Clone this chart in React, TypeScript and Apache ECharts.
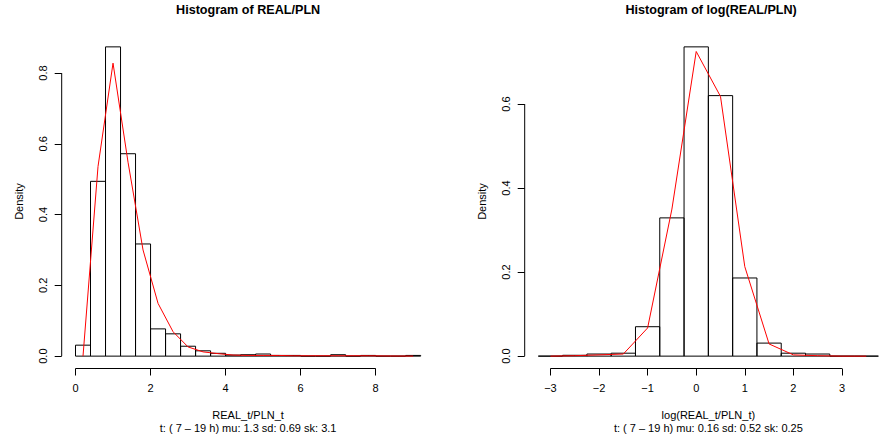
import React, { useEffect, useRef } from "react";
import * as echarts from "echarts";

// ---- REAL/PLN : histogram (bin width 0.4) + density curve at bin mids ----
const rawBreaks = [0, 0.4, 0.8, 1.2, 1.6, 2.0, 2.4, 2.8, 3.2, 3.6, 4.0, 4.4, 4.8, 5.2, 5.6, 6.0, 6.4, 6.8, 7.2, 7.6, 8.0, 8.4, 8.8, 9.2];
const rawDensity = [0.031, 0.494, 0.874, 0.572, 0.317, 0.077, 0.063, 0.028, 0.015, 0.008, 0.003, 0.004, 0.006, 0.002, 0.002, 0, 0, 0.004, 0, 0.002, 0, 0, 0.002];
const rawMids = [0.2, 0.6, 1.0, 1.4, 1.8, 2.2, 2.6, 3.0, 3.4, 3.8, 4.2, 4.6, 5.0, 5.4, 5.8, 6.2, 6.6, 7.0, 7.4, 7.8, 8.2, 8.6, 9.0];
const rawCurve = [0, 0.536, 0.828, 0.548, 0.3, 0.149, 0.069, 0.026, 0.012, 0.007, 0.003, 0.002, 0.002, 0.002, 0.001, 0.001, 0.001, 0.001, 0.001, 0.001, 0.0005, 0.0003, 0.0002];
const rawXTicks = [0, 2, 4, 6, 8];
const rawYTicks = [0, 0.2, 0.4, 0.6, 0.8];

// ---- log(REAL/PLN) : histogram (bin width 0.5) + density curve ----
const logBreaks = [-3.25, -2.75, -2.25, -1.75, -1.25, -0.75, -0.25, 0.25, 0.75, 1.25, 1.75, 2.25, 2.75, 3.25, 3.75];
const logDensity = [0, 0.002, 0.005, 0.007, 0.07, 0.329, 0.736, 0.62, 0.186, 0.031, 0.007, 0.005, 0, 0];
const logMids = [-3, -2.5, -2, -1.5, -1, -0.5, 0, 0.5, 1, 1.5, 2, 2.5, 3, 3.5];
const logCurve = [0, 0.001, 0.003, 0.005, 0.067, 0.35, 0.725, 0.618, 0.213, 0.029, 0.003, 0.001, 0, 0];
const logXTicks = [-3, -2, -1, 0, 1, 2, 3];
const logYTicks = [0, 0.2, 0.4, 0.6];

const FONT = "'Liberation Sans', Arial, Helvetica, sans-serif";
const TEXT_SIZE = 11;
const TITLE_SIZE = 12.6;

type Panel = {
  title: string;
  xName: string;
  stats: string;
  breaks: number[];
  density: number[];
  mids: number[];
  curve: number[];
  xTicks: number[];
  yTicks: number[];
  left: number;
};

const panels: Panel[] = [
  {
    title: "Histogram of REAL/PLN",
    xName: "REAL_t/PLN_t",
    stats: "t: ( 7 \u2013 19 h) mu: 1.3 sd: 0.69 sk: 3.1",
    breaks: rawBreaks,
    density: rawDensity,
    mids: rawMids,
    curve: rawCurve,
    xTicks: rawXTicks,
    yTicks: rawYTicks,
    left: 61.7,
  },
  {
    title: "Histogram of log(REAL/PLN)",
    xName: "log(REAL_t/PLN_t)",
    stats: "t: ( 7 \u2013 19 h) mu: 0.16 sd: 0.52 sk: 0.25",
    breaks: logBreaks,
    density: logDensity,
    mids: logMids,
    curve: logCurve,
    xTicks: logXTicks,
    yTicks: logYTicks,
    left: 524.7,
  },
];

const PLOT_TOP = 34.5;
const PLOT_H = 334;
const PLOT_W = 372.8;

const fmtNum = (v: number, digits: number) => {
  const s = v.toFixed(digits);
  return s.startsWith("-") ? "\u2212" + s.slice(1) : s;
};

function buildOption() {
  const grid: any[] = [];
  const xAxis: any[] = [];
  const yAxis: any[] = [];
  const series: any[] = [];
  const graphic: any[] = [];

  panels.forEach((p, i) => {
    // R-style limits: data range padded by 4% on each side
    const bLo = p.breaks[0];
    const bHi = p.breaks[p.breaks.length - 1];
    const xPad = (bHi - bLo) * 0.04;
    const yMaxData = Math.max(...p.density);
    const yPad = yMaxData * 0.04;
    const xMin = bLo - xPad;
    const xMax = bHi + xPad;
    const yMin = -yPad;
    const yMax = yMaxData + yPad;

    grid.push({ left: p.left, top: PLOT_TOP, width: PLOT_W, height: PLOT_H, containLabel: false });

    xAxis.push({
      type: "value",
      gridIndex: i,
      min: xMin,
      max: xMax,
      position: "bottom",
      axisLine: { show: false, onZero: false },
      splitLine: { show: false },
      axisTick: {
        show: true,
        customValues: p.xTicks,
        length: 7,
        lineStyle: { color: "#000", width: 1 },
      },
      axisLabel: {
        customValues: p.xTicks,
        margin: 14,
        color: "#000",
        fontSize: TEXT_SIZE,
        fontFamily: FONT,
        formatter: (v: number) => fmtNum(v, 0),
      },
      name: p.xName + "\n" + p.stats,
      nameLocation: "middle",
      nameGap: 40,
      nameTextStyle: {
        color: "#000",
        fontSize: TEXT_SIZE,
        fontFamily: FONT,
        lineHeight: 13,
        verticalAlign: "top",
      },
    });

    yAxis.push({
      type: "value",
      gridIndex: i,
      min: yMin,
      max: yMax,
      position: "left",
      axisLine: { show: false, onZero: false },
      splitLine: { show: false },
      axisTick: {
        show: true,
        customValues: p.yTicks,
        length: 7,
        lineStyle: { color: "#000", width: 1 },
      },
      axisLabel: {
        customValues: p.yTicks,
        rotate: 90,
        margin: 13,
        color: "#000",
        fontSize: TEXT_SIZE,
        fontFamily: FONT,
        formatter: (v: number) => fmtNum(v, 1),
      },
      name: "Density",
      nameLocation: "middle",
      nameRotate: 90,
      nameGap: 37,
      nameTextStyle: { color: "#000", fontSize: TEXT_SIZE, fontFamily: FONT },
    });

    // histogram bins
    const bins = p.density.map((d, k) => [p.breaks[k], p.breaks[k + 1], d]);
    series.push({
      type: "custom",
      xAxisIndex: i,
      yAxisIndex: i,
      silent: true,
      encode: { x: [0, 1], y: 2 },
      data: bins,
      renderItem: (_params: any, api: any) => {
        const x0 = api.value(0);
        const x1 = api.value(1);
        const d = api.value(2);
        const a = api.coord([x0, d]);
        const b = api.coord([x1, 0]);
        return {
          type: "rect",
          shape: { x: a[0], y: a[1], width: b[0] - a[0], height: b[1] - a[1] },
          style: { fill: "none", stroke: "#000", lineWidth: 1 },
        };
      },
      z: 2,
    });

    // density curve
    series.push({
      type: "line",
      xAxisIndex: i,
      yAxisIndex: i,
      data: p.mids.map((m, k) => [m, p.curve[k]]),
      showSymbol: false,
      symbol: "none",
      silent: true,
      lineStyle: { color: "#ff0000", width: 1 },
      z: 3,
    });

    // axis lines spanning first to last tick only
    const xT = p.xTicks;
    const yT = p.yTicks;
    series.push({
      type: "line",
      xAxisIndex: i,
      yAxisIndex: i,
      data: [
        [xT[0], yMin],
        [xT[xT.length - 1], yMin],
      ],
      symbol: "none",
      clip: false,
      silent: true,
      lineStyle: { color: "#000", width: 1 },
      z: 4,
    });
    series.push({
      type: "line",
      xAxisIndex: i,
      yAxisIndex: i,
      data: [
        [xMin, yT[0]],
        [xMin, yT[yT.length - 1]],
      ],
      symbol: "none",
      clip: false,
      silent: true,
      lineStyle: { color: "#000", width: 1 },
      z: 4,
    });

    graphic.push({
      type: "text",
      x: p.left + PLOT_W / 2,
      y: 3,
      style: {
        text: p.title,
        align: "center",
        verticalAlign: "top",
        fill: "#000",
        font: `bold ${TITLE_SIZE}px ${FONT}`,
      },
    });
  });

  return {
    animation: false,
    backgroundColor: "#ffffff",
    textStyle: { fontFamily: FONT },
    grid,
    xAxis,
    yAxis,
    series,
    graphic,
  };
}

export default function App() {
  const ref = useRef<HTMLDivElement>(null);
  useEffect(() => {
    if (!ref.current) return;
    const chart = echarts.init(ref.current, undefined, { renderer: "svg" });
    chart.setOption(buildOption() as any);
    return () => chart.dispose();
  }, []);
  return (
    <div
      ref={ref}
      style={{ position: "absolute", left: 0, top: 0, width: 892, height: 441, background: "#fff" }}
    />
  );
}
